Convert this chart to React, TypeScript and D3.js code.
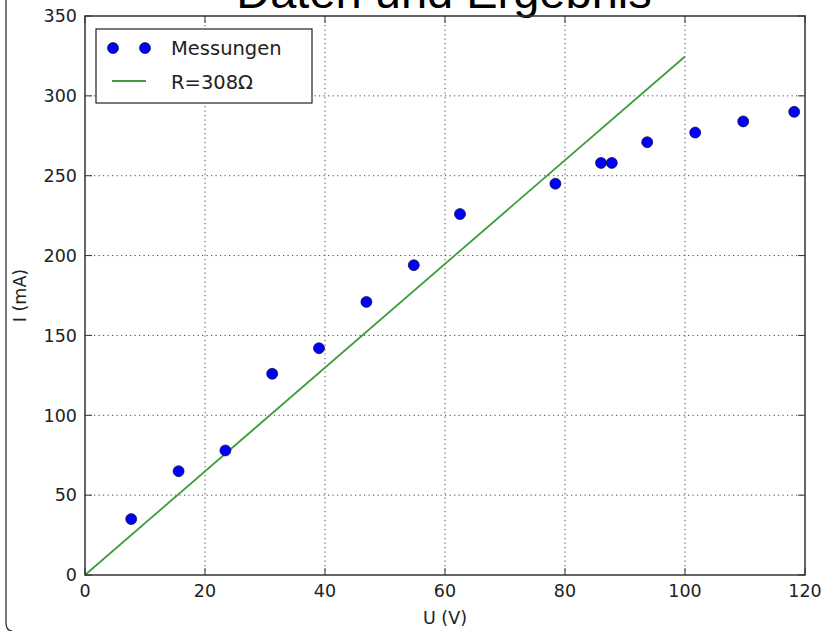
import React from "react";
import * as d3 from "d3";

const voltages = [7.7, 15.6, 23.4, 31.2, 39.0, 46.9, 54.8, 62.5, 78.4, 86.0, 87.8, 93.7, 101.7, 109.7, 118.2];
const currents = [35, 65, 78, 126, 142, 171, 194, 226, 245, 258, 258, 271, 277, 284, 290];
const fitU = [0, 100];
const resistance = 308;
const xTicks = [0, 20, 40, 60, 80, 100, 120];
const yTicks = [0, 50, 100, 150, 200, 250, 300, 350];
const title = "Daten und Ergebnis";
const legendLabels = ["Messungen", "R=308\u03a9"];

const W = 823, H = 631;
const L = 85, R = 805, T = 16, B = 575;
const FONT = "'DejaVu Sans', sans-serif";

export default function App() {
  const x = d3.scaleLinear().domain([0, 120]).range([L, R]);
  const y = d3.scaleLinear().domain([0, 350]).range([B, T]);
  const fit = fitU.map((u) => [u, (u / resistance) * 1000] as [number, number]);
  const line = d3.line<[number, number]>().x((d) => x(d[0])).y((d) => y(d[1]));
  const tickLen = 7;

  return (
    <svg width={W} height={H} style={{ position: "absolute", left: 0, top: 0, background: "#fff" }}>
      <rect x={0} y={0} width={W} height={H} fill="#fff" />
      <path d={`M6,0 L6,622 Q6,631 12,631`} fill="none" stroke="#333" strokeWidth={1.3} />
      <text x={444} y={8} textAnchor="middle" fontFamily="'Liberation Sans', Arial, sans-serif" fontSize={47} fill="#000">{title}</text>
      {/* grid */}
      {xTicks.slice(1, -1).map((t) => (
        <line key={"gx" + t} x1={x(t)} x2={x(t)} y1={T} y2={B} stroke="#444" strokeWidth={1} strokeDasharray="1.2,3.3" />
      ))}
      {yTicks.slice(1, -1).map((t) => (
        <line key={"gy" + t} x1={L} x2={R} y1={y(t)} y2={y(t)} stroke="#444" strokeWidth={1} strokeDasharray="1.2,3.3" />
      ))}
      {/* fit line */}
      <path d={line(fit) || ""} fill="none" stroke="#3c9e3c" strokeWidth={1.8} />
      {/* points */}
      {voltages.map((u, i) => (
        <circle key={i} cx={x(u)} cy={y(currents[i])} r={5.5} fill="#0000ff" stroke="#000" strokeWidth={0.6} />
      ))}
      {/* frame */}
      <rect x={L} y={T} width={R - L} height={B - T} fill="none" stroke="#333" strokeWidth={1.5} />
      {/* ticks */}
      {xTicks.map((t) => (
        <g key={"tx" + t}>
          <line x1={x(t)} x2={x(t)} y1={B} y2={B - tickLen} stroke="#333" strokeWidth={1} />
          <line x1={x(t)} x2={x(t)} y1={T} y2={T + tickLen} stroke="#333" strokeWidth={1} />
          <text x={x(t)} y={597} textAnchor="middle" fontFamily={FONT} fontSize={17.5} fill="#222">{t}</text>
        </g>
      ))}
      {yTicks.map((t) => (
        <g key={"ty" + t}>
          <line x1={L} x2={L + tickLen} y1={y(t)} y2={y(t)} stroke="#333" strokeWidth={1} />
          <line x1={R} x2={R - tickLen} y1={y(t)} y2={y(t)} stroke="#333" strokeWidth={1} />
          <text x={77} y={y(t) + 6.3} textAnchor="end" fontFamily={FONT} fontSize={17.5} fill="#222">{t}</text>
        </g>
      ))}
      <text x={(L + R) / 2} y={624} textAnchor="middle" fontFamily={FONT} fontSize={17.5} fill="#222">U (V)</text>
      <text transform={`translate(26,${(T + B) / 2}) rotate(-90)`} textAnchor="middle" fontFamily={FONT} fontSize={17.5} fill="#222">I (mA)</text>
      {/* legend */}
      <rect x={96} y={29} width={216} height={74} fill="#fff" stroke="#222" strokeWidth={1.2} />
      <circle cx={113} cy={48} r={5.5} fill="#0000ff" stroke="#000" strokeWidth={0.6} />
      <circle cx={145} cy={48} r={5.5} fill="#0000ff" stroke="#000" strokeWidth={0.6} />
      <text x={171} y={55} fontFamily={FONT} fontSize={19.5} fill="#222">{legendLabels[0]}</text>
      <line x1={112} x2={146} y1={81} y2={81} stroke="#3c9e3c" strokeWidth={1.8} />
      <text x={171} y={89} fontFamily={FONT} fontSize={19.5} fill="#222">{legendLabels[1]}</text>
    </svg>
  );
}
